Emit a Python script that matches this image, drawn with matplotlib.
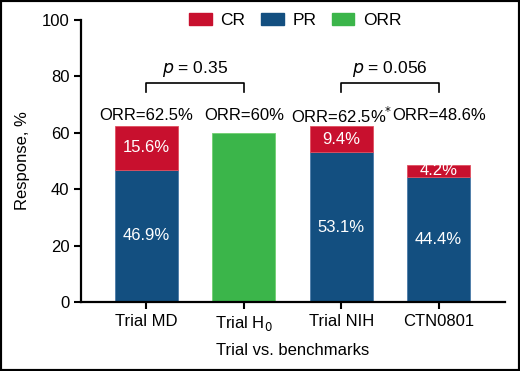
import numpy as np
import matplotlib
matplotlib.use("Agg")
import matplotlib.pyplot as plt
from matplotlib.patches import Rectangle

plt.rcParams['font.family'] = ['Liberation Sans', 'DejaVu Sans']

categories = ["Trial MD", "Trial H$_0$", "Trial NIH", "CTN0801"]
pr_values = [46.9, None, 53.1, 44.4]
cr_values = [15.6, None, 9.4, 4.2]
orr_values = [None, 60.0, None, None]
orr_labels = ["ORR=62.5%", "ORR=60%", "ORR=62.5%$^{*}$", "ORR=48.6%"]
comparisons = [(0, 1, "$p$ = 0.35"), (2, 3, "$p$ = 0.056")]

c_cr = "#C8102E"
c_pr = "#134F80"
c_orr = "#3BB54A"

fig = plt.figure(figsize=(5.2, 3.71), dpi=100)
ax = fig.add_axes([0.156, 0.186, 0.815, 0.760])

x = np.arange(len(categories))
w = 0.65
for i in range(len(categories)):
    if pr_values[i] is not None:
        ax.bar(x[i], pr_values[i], w, color=c_pr, edgecolor="#4a7aa8", linewidth=0.6)
        ax.bar(x[i], cr_values[i], w, bottom=pr_values[i], color=c_cr,
               edgecolor="#e05060", linewidth=0.6)
        ax.text(x[i], pr_values[i] / 2, f"{pr_values[i]}%",
                ha="center", va="center", color="white", fontsize=12)
        ax.text(x[i], pr_values[i] + cr_values[i] / 2, f"{cr_values[i]}%",
                ha="center", va="center", color="white", fontsize=12)
    else:
        ax.bar(x[i], orr_values[i], w, color=c_orr, edgecolor="#70d070", linewidth=0.6)

for i, lab in enumerate(orr_labels):
    ax.text(x[i], 66, lab, ha="center", va="center", fontsize=12)

for a, b, txt in comparisons:
    top, leg = 77.5, 74.5
    ax.plot([x[a], x[a], x[b], x[b]], [leg, top, top, leg], color="black", lw=1.2)
    ax.text((x[a] + x[b]) / 2, top + 1.5, txt, ha="center", va="bottom", fontsize=12.5)

ax.set_xlim(-0.67, 3.68)
ax.set_ylim(0, 100)
ax.set_yticks([0, 20, 40, 60, 80, 100])
ax.set_xticks(x)
ax.set_xticklabels(categories)
ax.tick_params(axis="both", direction="out", width=1.5, length=5, labelsize=12)
for s in ["top", "right"]:
    ax.spines[s].set_visible(False)
for s in ["left", "bottom"]:
    ax.spines[s].set_linewidth(1.6)

ax.set_ylabel("Response, %", fontsize=12, labelpad=8)
ax.set_xlabel("Trial vs. benchmarks", fontsize=12, labelpad=7)

handles = [Rectangle((0, 0), 1, 1, color=c) for c in (c_cr, c_pr, c_orr)]
fig.legend(handles, ["CR", "PR", "ORR"], loc="center", bbox_to_anchor=(0.568, 0.945),
           ncol=3, frameon=False, fontsize=12.5, handlelength=1.3, handleheight=0.75,
           columnspacing=0.9, handletextpad=0.5)

fig.patches.append(Rectangle((0, 0), 1, 1, transform=fig.transFigure, fill=False,
                             edgecolor="black", linewidth=3))

fig.savefig("out.png", dpi=100)
